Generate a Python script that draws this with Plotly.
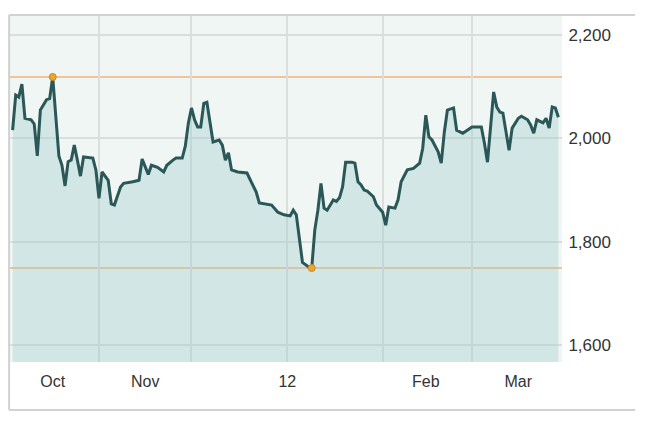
import plotly.graph_objects as go

# daily closing values
dates = [
    "2011-10-04", "2011-10-05", "2011-10-06", "2011-10-07", "2011-10-08", "2011-10-10",
    "2011-10-11", "2011-10-12", "2011-10-13", "2011-10-15", "2011-10-16", "2011-10-17",
    "2011-10-19", "2011-10-20", "2011-10-21", "2011-10-22", "2011-10-23", "2011-10-24",
    "2011-10-25", "2011-10-26", "2011-10-27", "2011-10-30", "2011-10-31", "2011-11-01",
    "2011-11-02", "2011-11-04", "2011-11-05", "2011-11-06", "2011-11-08", "2011-11-09",
    "2011-11-12", "2011-11-14", "2011-11-15", "2011-11-17", "2011-11-18", "2011-11-20",
    "2011-11-22", "2011-11-23", "2011-11-25", "2011-11-26", "2011-11-28", "2011-11-29",
    "2011-11-30", "2011-12-01", "2011-12-02", "2011-12-03", "2011-12-04", "2011-12-05",
    "2011-12-06", "2011-12-07", "2011-12-08", "2011-12-10", "2011-12-11", "2011-12-12",
    "2011-12-13", "2011-12-14", "2011-12-16", "2011-12-19", "2011-12-21", "2011-12-22",
    "2011-12-23", "2011-12-25", "2011-12-27", "2011-12-29", "2011-12-31", "2012-01-02",
    "2012-01-03", "2012-01-04", "2012-01-06", "2012-01-08", "2012-01-09", "2012-01-10",
    "2012-01-11", "2012-01-12", "2012-01-13", "2012-01-14", "2012-01-16", "2012-01-17",
    "2012-01-18", "2012-01-19", "2012-01-20", "2012-01-22", "2012-01-23", "2012-01-24",
    "2012-01-25", "2012-01-26", "2012-01-27", "2012-01-29", "2012-01-30", "2012-02-01",
    "2012-02-02", "2012-02-03", "2012-02-05", "2012-02-06", "2012-02-07", "2012-02-09",
    "2012-02-11", "2012-02-13", "2012-02-14", "2012-02-15", "2012-02-16", "2012-02-17",
    "2012-02-19", "2012-02-20", "2012-02-21", "2012-02-22", "2012-02-24", "2012-02-25",
    "2012-02-27", "2012-03-01", "2012-03-04", "2012-03-05", "2012-03-06", "2012-03-07",
    "2012-03-08", "2012-03-09", "2012-03-10", "2012-03-11", "2012-03-12", "2012-03-13",
    "2012-03-14", "2012-03-16", "2012-03-17", "2012-03-19", "2012-03-20", "2012-03-21",
    "2012-03-22", "2012-03-24", "2012-03-25", "2012-03-26", "2012-03-27", "2012-03-28",
    "2012-03-29",
]
values = [
    2016, 2084, 2080, 2105, 2039, 2036,
    2028, 1966, 2055, 2075, 2077, 2119,
    1966, 1948, 1908, 1955, 1958, 1987,
    1958, 1927, 1964, 1962, 1939, 1884,
    1935, 1919, 1873, 1871, 1906, 1913,
    1916, 1919, 1960, 1930, 1948, 1944,
    1935, 1948, 1958, 1962, 1962, 1985,
    2030, 2059, 2036, 2022, 2022, 2068,
    2070, 2032, 1993, 1997, 1987, 1958,
    1972, 1939, 1935, 1933, 1910, 1896,
    1875, 1873, 1871, 1857, 1852, 1850,
    1861, 1852, 1760, 1751, 1749, 1823,
    1861, 1913, 1865, 1861, 1881, 1878,
    1885, 1906, 1954, 1954, 1952, 1916,
    1910, 1900, 1898, 1887, 1871, 1857,
    1832, 1867, 1865, 1881, 1916, 1939,
    1942, 1952, 1981, 2045, 2003, 1997,
    1974, 1952, 2012, 2055, 2059, 2016,
    2010, 2022, 2022, 1991, 1954, 2022,
    2090, 2061, 2051, 2049, 2010, 1977,
    2020, 2039, 2043, 2036, 2026, 2010,
    2036, 2030, 2039, 2020, 2061, 2059,
    2041,
]

# axis labels and month boundaries
label_dates = ["2011-10-17", "2011-11-16", "2012-01-01 02:00", "2012-02-15", "2012-03-16"]
label_text = ["Oct", "Nov", "12", "Feb", "Mar"]
month_starts = ["2011-11-01", "2011-12-01", "2012-01-01", "2012-02-01", "2012-03-01"]
y_ticks = [1600, 1800, 2000, 2200]

hi = max(values)
lo = min(values)
hi_date = dates[values.index(hi)]
lo_date = dates[values.index(lo)]

fig = go.Figure()

fig.add_trace(go.Scatter(
    x=dates, y=values, mode="lines",
    line=dict(color="#2a5757", width=3),
    fill="tozeroy", fillcolor="rgba(155,200,205,0.34)",
    hoverinfo="x+y", showlegend=False,
))

# high / low reference lines and dots
for v in (hi, lo):
    fig.add_hline(y=v, line=dict(color="#f2b27a", width=1.6), layer="below")

fig.add_trace(go.Scatter(
    x=[hi_date, lo_date], y=[hi, lo], mode="markers",
    marker=dict(color="#e9a632", size=7, line=dict(color="#c98a20", width=1)),
    showlegend=False, hoverinfo="skip",
))

grid = "#dadfdd"
fig.update_xaxes(
    type="date",
    range=["2011-10-02 12:00", "2012-03-30 04:00"],
    tickmode="array", tickvals=label_dates, ticktext=label_text,
    showgrid=False, zeroline=False, showline=False,
    ticks="outside", ticklen=5, tickcolor="rgba(0,0,0,0)",
    tickfont=dict(family="Liberation Sans, Arial", size=16, color="#333333"),
    minor=dict(tickmode="array", tickvals=month_starts, showgrid=True,
               gridcolor=grid, gridwidth=1.6, ticks=""),
    fixedrange=True,
)
fig.update_yaxes(
    side="right", range=[1567, 2239],
    tickmode="array", tickvals=y_ticks, tickformat=",",
    showgrid=True, gridcolor=grid, gridwidth=1.6,
    zeroline=False, showline=False,
    ticks="outside", ticklen=2, tickcolor="rgba(0,0,0,0)",
    tickfont=dict(family="Liberation Sans, Arial", size=17, color="#333333"),
    fixedrange=True,
)

# thin frame around the chart block
frame = dict(type="line", xref="paper", yref="paper",
             line=dict(color="#d2d2d2", width=2))
fig.add_shape(x0=0.002, x1=1.132, y0=1, y1=1, **frame)
fig.add_shape(x0=0.002, x1=1.132, y0=-0.138, y1=-0.138, **frame)
fig.add_shape(x0=0.002, x1=0.002, y0=-0.138, y1=1, **frame)

fig.update_layout(
    width=650, height=430,
    margin=dict(l=0, r=96, t=7, b=76),
    paper_bgcolor="white",
    plot_bgcolor="#f0f6f3",
    showlegend=False,
)

fig.write_html("out.html")
